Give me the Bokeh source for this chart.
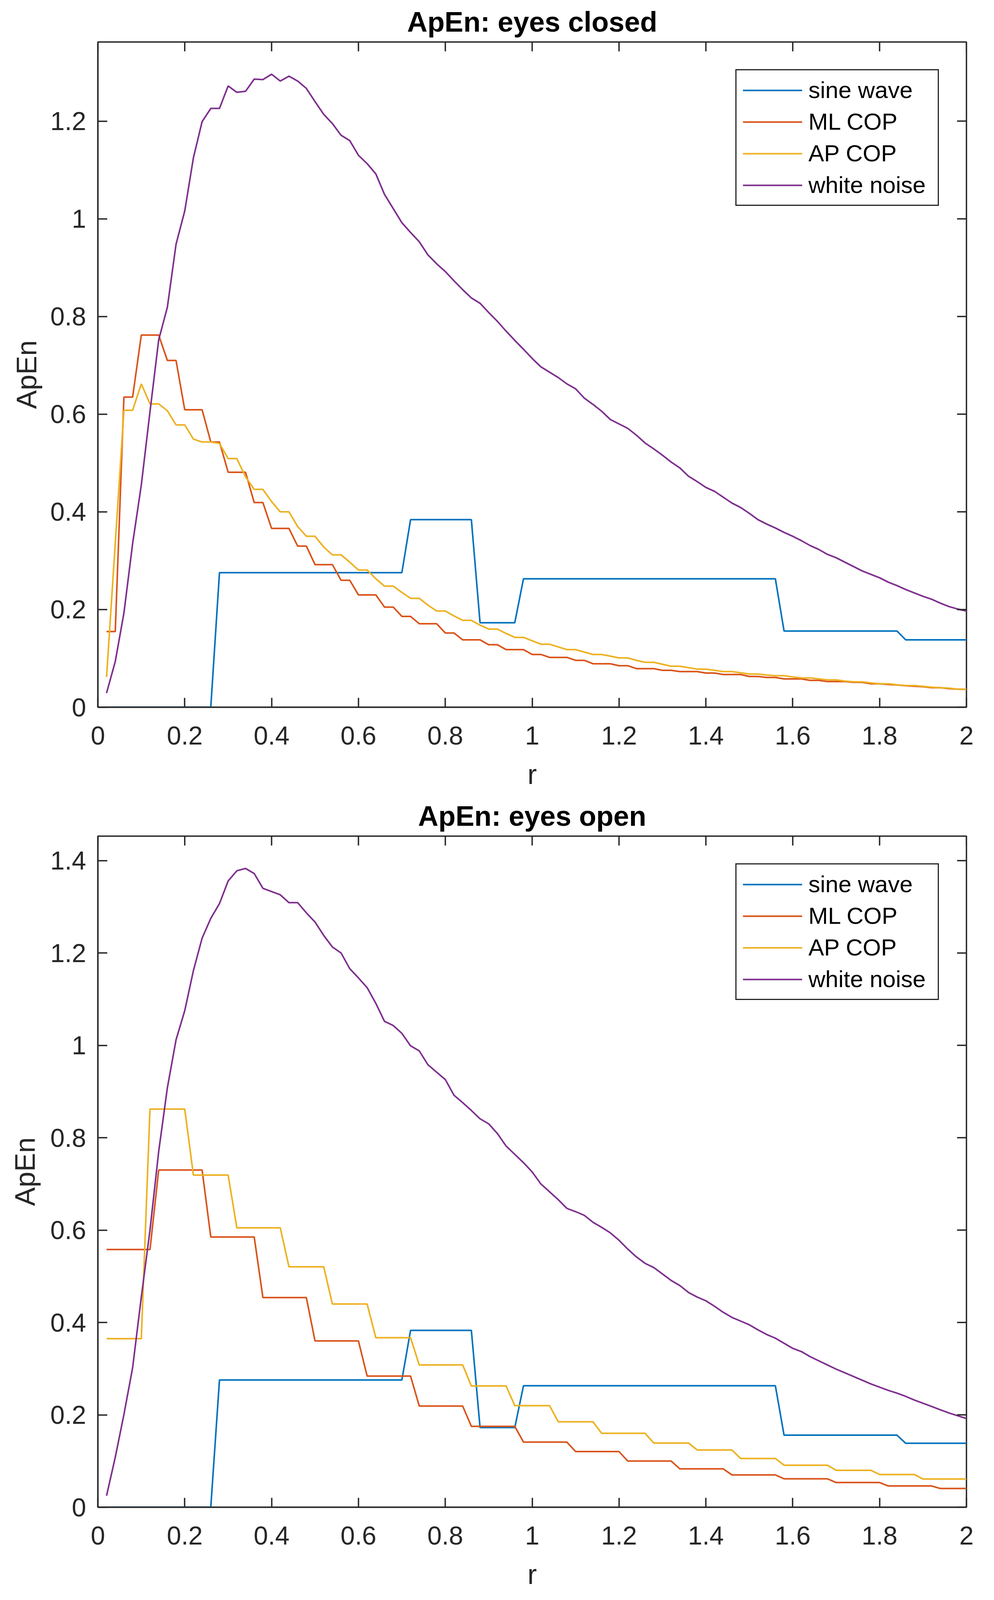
import numpy as np
from bokeh.plotting import figure
from bokeh.models import FixedTicker, CustomJSTickFormatter, Range1d, Legend, LegendItem
from bokeh.layouts import column
from bokeh.embed import file_html
from bokeh.resources import INLINE

# ---------------- data ----------------
r = np.round(np.arange(1, 101) * 0.02, 2)

series_names = ["sine wave", "ML COP", "AP COP", "white noise"]
x_ticks = [0, 0.2, 0.4, 0.6, 0.8, 1, 1.2, 1.4, 1.6, 1.8, 2]
y_ticks_closed = [0, 0.2, 0.4, 0.6, 0.8, 1, 1.2]
y_ticks_open = [0, 0.2, 0.4, 0.6, 0.8, 1, 1.2, 1.4]

sine_closed = [
    0, 0, 0, 0, 0, 0, 0, 0, 0, 0,
    0, 0, 0, 0.2755, 0.2755, 0.2755, 0.2755, 0.2755, 0.2755, 0.2755,
    0.2755, 0.2755, 0.2755, 0.2755, 0.2755, 0.2755, 0.2755, 0.2755, 0.2755, 0.2755,
    0.2755, 0.2755, 0.2755, 0.2755, 0.2755, 0.384, 0.384, 0.384, 0.384, 0.384,
    0.384, 0.384, 0.384, 0.173, 0.173, 0.173, 0.173, 0.173, 0.263, 0.263,
    0.263, 0.263, 0.263, 0.263, 0.263, 0.263, 0.263, 0.263, 0.263, 0.263,
    0.263, 0.263, 0.263, 0.263, 0.263, 0.263, 0.263, 0.263, 0.263, 0.263,
    0.263, 0.263, 0.263, 0.263, 0.263, 0.263, 0.263, 0.263, 0.156, 0.156,
    0.156, 0.156, 0.156, 0.156, 0.156, 0.156, 0.156, 0.156, 0.156, 0.156,
    0.156, 0.156, 0.138, 0.138, 0.138, 0.138, 0.138, 0.138, 0.138, 0.138,
]
ml_closed = [
    0.155, 0.155, 0.635, 0.635, 0.762, 0.762, 0.762, 0.710, 0.710, 0.609,
    0.609, 0.609, 0.543, 0.543, 0.481, 0.481, 0.481, 0.419, 0.419, 0.366,
    0.366, 0.366, 0.330, 0.330, 0.292, 0.292, 0.292, 0.260, 0.260, 0.230,
    0.230, 0.230, 0.205, 0.205, 0.186, 0.186, 0.171, 0.171, 0.171, 0.152,
    0.152, 0.138, 0.138, 0.138, 0.128, 0.128, 0.118, 0.118, 0.118, 0.108,
    0.108, 0.102, 0.102, 0.102, 0.096, 0.096, 0.089, 0.089, 0.089, 0.085,
    0.085, 0.079, 0.079, 0.079, 0.0755, 0.0755, 0.073, 0.073, 0.073, 0.070,
    0.070, 0.067, 0.067, 0.067, 0.063, 0.063, 0.061, 0.061, 0.058, 0.058,
    0.058, 0.055, 0.055, 0.0525, 0.0525, 0.0525, 0.051, 0.051, 0.048, 0.048,
    0.0465, 0.0455, 0.044, 0.043, 0.042, 0.040, 0.040, 0.038, 0.037, 0.0366,
]
ap_closed = [
    0.062, 0.335, 0.608, 0.608, 0.662, 0.621, 0.621, 0.607, 0.578, 0.578,
    0.549, 0.543, 0.543, 0.540, 0.509, 0.509, 0.472, 0.446, 0.446, 0.421,
    0.400, 0.400, 0.370, 0.350, 0.350, 0.328, 0.312, 0.312, 0.297, 0.281,
    0.281, 0.263, 0.248, 0.248, 0.235, 0.223, 0.223, 0.209, 0.197, 0.197,
    0.187, 0.178, 0.178, 0.168, 0.160, 0.160, 0.151, 0.143, 0.143, 0.136,
    0.129, 0.129, 0.1235, 0.118, 0.118, 0.113, 0.108, 0.108, 0.1045, 0.101,
    0.101, 0.096, 0.092, 0.092, 0.088, 0.084, 0.084, 0.081, 0.078, 0.078,
    0.0755, 0.073, 0.073, 0.0705, 0.068, 0.068, 0.066, 0.0645, 0.0645, 0.062,
    0.060, 0.060, 0.058, 0.056, 0.056, 0.0536, 0.052, 0.052, 0.0498, 0.048,
    0.048, 0.046, 0.0444, 0.0444, 0.0427, 0.041, 0.040, 0.039, 0.037, 0.0366,
]
wn_closed = [
    0.029, 0.0935, 0.193, 0.335, 0.455, 0.605, 0.752, 0.819, 0.948, 1.016,
    1.125, 1.199, 1.226, 1.226, 1.272, 1.259, 1.261, 1.286, 1.285, 1.296,
    1.282, 1.292, 1.282, 1.267, 1.240, 1.214, 1.195, 1.171, 1.160, 1.130,
    1.113, 1.092, 1.050, 1.021, 0.992, 0.972, 0.953, 0.926, 0.908, 0.892,
    0.873, 0.855, 0.838, 0.827, 0.808, 0.790, 0.770, 0.751, 0.733, 0.714,
    0.697, 0.686, 0.675, 0.662, 0.652, 0.633, 0.620, 0.606, 0.589, 0.580,
    0.571, 0.557, 0.541, 0.529, 0.516, 0.502, 0.490, 0.473, 0.462, 0.450,
    0.442, 0.430, 0.418, 0.409, 0.397, 0.384, 0.375, 0.367, 0.358, 0.350,
    0.341, 0.331, 0.323, 0.313, 0.306, 0.297, 0.288, 0.279, 0.272, 0.265,
    0.256, 0.249, 0.241, 0.234, 0.227, 0.221, 0.213, 0.206, 0.201, 0.197,
]

sine_open = [
    0, 0, 0, 0, 0, 0, 0, 0, 0, 0,
    0, 0, 0, 0.2755, 0.2755, 0.2755, 0.2755, 0.2755, 0.2755, 0.2755,
    0.2755, 0.2755, 0.2755, 0.2755, 0.2755, 0.2755, 0.2755, 0.2755, 0.2755, 0.2755,
    0.2755, 0.2755, 0.2755, 0.2755, 0.2755, 0.383, 0.383, 0.383, 0.383, 0.383,
    0.383, 0.383, 0.383, 0.1725, 0.1725, 0.1725, 0.1725, 0.1725, 0.263, 0.263,
    0.263, 0.263, 0.263, 0.263, 0.263, 0.263, 0.263, 0.263, 0.263, 0.263,
    0.263, 0.263, 0.263, 0.263, 0.263, 0.263, 0.263, 0.263, 0.263, 0.263,
    0.263, 0.263, 0.263, 0.263, 0.263, 0.263, 0.263, 0.263, 0.156, 0.156,
    0.156, 0.156, 0.156, 0.156, 0.156, 0.156, 0.156, 0.156, 0.156, 0.156,
    0.156, 0.156, 0.1385, 0.1385, 0.1385, 0.1385, 0.1385, 0.1385, 0.1385, 0.1385,
]
ml_open = [
    0.558, 0.558, 0.558, 0.558, 0.558, 0.558, 0.730, 0.730, 0.730, 0.730,
    0.730, 0.730, 0.585, 0.585, 0.585, 0.585, 0.585, 0.585, 0.454, 0.454,
    0.454, 0.454, 0.454, 0.454, 0.360, 0.360, 0.360, 0.360, 0.360, 0.360,
    0.284, 0.284, 0.284, 0.284, 0.284, 0.284, 0.219, 0.219, 0.219, 0.219,
    0.219, 0.219, 0.175, 0.175, 0.175, 0.175, 0.175, 0.175, 0.141, 0.141,
    0.141, 0.141, 0.141, 0.141, 0.1205, 0.1205, 0.1205, 0.1205, 0.1205, 0.1205,
    0.100, 0.100, 0.100, 0.100, 0.100, 0.100, 0.083, 0.083, 0.083, 0.083,
    0.083, 0.083, 0.070, 0.070, 0.070, 0.070, 0.070, 0.070, 0.0615, 0.0615,
    0.0615, 0.0615, 0.0615, 0.0615, 0.0534, 0.0534, 0.0534, 0.0534, 0.0534, 0.0534,
    0.046, 0.046, 0.046, 0.046, 0.046, 0.046, 0.0405, 0.0405, 0.0405, 0.0405,
]
ap_open = [
    0.365, 0.365, 0.365, 0.365, 0.365, 0.862, 0.862, 0.862, 0.862, 0.862,
    0.719, 0.719, 0.719, 0.719, 0.719, 0.605, 0.605, 0.605, 0.605, 0.605,
    0.605, 0.5205, 0.5205, 0.5205, 0.5205, 0.5205, 0.440, 0.440, 0.440, 0.440,
    0.440, 0.367, 0.367, 0.367, 0.367, 0.367, 0.308, 0.308, 0.308, 0.308,
    0.308, 0.308, 0.2625, 0.2625, 0.2625, 0.2625, 0.2625, 0.220, 0.220, 0.220,
    0.220, 0.220, 0.185, 0.185, 0.185, 0.185, 0.185, 0.160, 0.160, 0.160,
    0.160, 0.160, 0.160, 0.139, 0.139, 0.139, 0.139, 0.139, 0.124, 0.124,
    0.124, 0.124, 0.124, 0.1055, 0.1055, 0.1055, 0.1055, 0.1055, 0.091, 0.091,
    0.091, 0.091, 0.091, 0.091, 0.080, 0.080, 0.080, 0.080, 0.080, 0.0708,
    0.0708, 0.0708, 0.0708, 0.0708, 0.061, 0.061, 0.061, 0.061, 0.061, 0.061,
]
wn_open = [
    0.025, 0.108, 0.201, 0.302, 0.455, 0.600, 0.770, 0.908, 1.012, 1.075,
    1.162, 1.232, 1.275, 1.307, 1.356, 1.378, 1.383, 1.372, 1.340, 1.333,
    1.326, 1.309, 1.309, 1.287, 1.267, 1.238, 1.213, 1.200, 1.166, 1.146,
    1.125, 1.091, 1.052, 1.043, 1.026, 0.999, 0.988, 0.958, 0.942, 0.926,
    0.892, 0.876, 0.859, 0.841, 0.830, 0.809, 0.782, 0.764, 0.746, 0.726,
    0.700, 0.683, 0.666, 0.647, 0.640, 0.632, 0.617, 0.606, 0.594, 0.578,
    0.559, 0.542, 0.528, 0.519, 0.505, 0.491, 0.480, 0.465, 0.455, 0.447,
    0.435, 0.422, 0.411, 0.403, 0.395, 0.384, 0.374, 0.366, 0.355, 0.344,
    0.337, 0.326, 0.317, 0.308, 0.299, 0.291, 0.283, 0.275, 0.267, 0.260,
    0.253, 0.247, 0.240, 0.232, 0.225, 0.218, 0.211, 0.204, 0.198, 0.192,
]

# ---------------- style ----------------
FONT = "Liberation Sans"
AX = "#262626"
COLORS = ["#0072BD", "#D95319", "#EDB120", "#7E2F8E"]
FMT = "return String(Math.round(tick * 10) / 10);"
XMAX = 2


def style_axis(ax, ticks, label, standoff, label_standoff):
    ax.ticker = FixedTicker(ticks=ticks)
    ax.formatter = CustomJSTickFormatter(code=FMT)
    ax.axis_line_color = AX
    ax.axis_line_width = 3.5
    ax.major_tick_line_color = AX
    ax.major_tick_line_width = 3.5
    ax.major_tick_in = 24
    ax.major_tick_out = 0
    ax.minor_tick_line_color = None
    ax.major_label_text_font = FONT
    ax.major_label_text_font_size = "66px"
    ax.major_label_text_color = AX
    ax.major_label_standoff = standoff
    ax.axis_label = label
    ax.axis_label_text_font = FONT
    ax.axis_label_text_font_size = "72px"
    ax.axis_label_text_font_style = "normal"
    ax.axis_label_text_color = AX
    ax.axis_label_standoff = label_standoff


def make_panel(title, series, ymax, yticks, w, h, bl, br, bt, bb, ylab_standoff):
    p = figure(width=w, height=h, output_backend="svg",
               toolbar_location=None, x_range=Range1d(0, XMAX),
               y_range=Range1d(0, ymax),
               min_border_left=bl, min_border_right=br,
               min_border_top=bt, min_border_bottom=bb,
               background_fill_color="white", border_fill_color="white")
    p.grid.visible = False
    p.outline_line_color = AX
    p.outline_line_width = 3.5

    p.title.text = title
    p.title.align = "center"
    p.title.text_font = FONT
    p.title.text_font_size = "72px"
    p.title.text_font_style = "bold"
    p.title.text_color = "#000000"
    p.title.standoff = 24

    style_axis(p.xaxis[0], x_ticks, "r", 49, 33)
    style_axis(p.yaxis[0], yticks, "ApEn", 30, ylab_standoff)

    items = []
    for name, vals, col in zip(series_names, series, COLORS):
        rend = p.line(r, vals, line_color=col, line_width=4)
        items.append(LegendItem(label=name, renderers=[rend]))

    # inward ticks on the top and right edges of the box (clipped to the frame)
    p.scatter(x=x_ticks, y=[ymax] * len(x_ticks), marker="dash", size=48,
              angle=np.pi / 2, line_color=AX, line_width=3.5)
    p.scatter(x=[XMAX] * len(yticks), y=yticks, marker="dash", size=48,
              line_color=AX, line_width=3.5)

    leg = Legend(items=items, location="top_right")
    leg.label_text_font = FONT
    leg.label_text_font_size = "60px"
    leg.label_text_color = "#000000"
    leg.glyph_width = 152
    leg.glyph_height = 60
    leg.label_height = 60
    leg.label_width = 315
    leg.label_standoff = 16
    leg.padding = 16
    leg.spacing = 12
    leg.margin = 70
    leg.border_line_color = AX
    leg.border_line_alpha = 1.0
    leg.border_line_width = 3
    leg.background_fill_color = "white"
    leg.background_fill_alpha = 1.0
    p.add_layout(leg)
    return p


# layout kept a little shorter than the window so nothing falls below the visible area
p_closed = make_panel("ApEn: eyes closed",
                      [sine_closed, ml_closed, ap_closed, wn_closed],
                      1.362, y_ticks_closed, 2520, 2033, 250, 47, 107, 223, 18)
p_open = make_panel("ApEn: eyes open",
                    [sine_open, ml_open, ap_open, wn_open],
                    1.453, y_ticks_open, 2520, 2041, 238, 41, 107, 216, 22)

layout = column(p_closed, p_open, spacing=0)
open("out.html", "w").write(file_html(layout, INLINE))
